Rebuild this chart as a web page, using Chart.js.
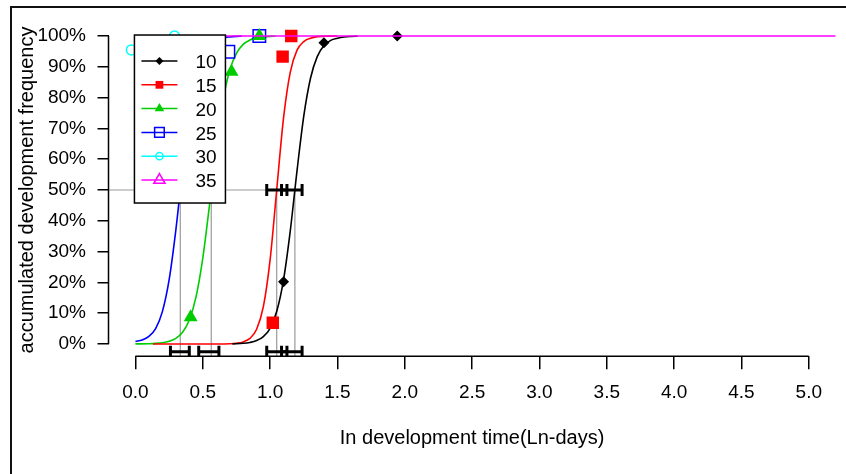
<!DOCTYPE html>
<html>
<head>
<meta charset="utf-8">
<script src="https://cdn.jsdelivr.net/npm/chart.js@4/dist/chart.umd.min.js"></script>
<style>
html,body{margin:0;padding:0;background:#fff;}
#wrap{position:relative;width:846px;height:474px;}
canvas{display:block;}
</style>
</head>
<body>
<div id="wrap"><canvas id="c" width="846" height="474"></canvas></div>
<script>
// ---- data ----
const seriesNames = ['10', '15', '20', '25', '30', '35'];
const seriesColors = ['#000000', '#ff0000', '#00cd00', '#0000ff', '#00ffff', '#ff00ff'];

// observed accumulated frequencies (points)
const pts10x = [1.10, 1.40, 1.944];
const pts10y = [0.202, 0.978, 1.00];
const pts15x = [1.02, 1.093, 1.157];
const pts15y = [0.069, 0.933, 1.00];
const pts20x = [0.41, 0.714, 0.92];
const pts20y = [0.087, 0.884, 1.00];
const pts25x = [0.69, 0.92];
const pts25y = [0.949, 1.00];
const pts30x = [-0.03, 0.29];
const pts30y = [0.955, 1.00];
const pts35x = [];
const pts35y = [];

// fitted curves
const curve10x = [0.72, 0.80, 0.85, 0.90, 0.95, 1.00, 1.05, 1.10, 1.15, 1.20, 1.25, 1.30, 1.35, 1.40, 1.45, 1.50, 1.55, 1.60, 1.65];
const curve10y = [0.0005, 0.0022, 0.005, 0.011, 0.024, 0.051, 0.107, 0.209, 0.368, 0.563, 0.740, 0.863, 0.933, 0.969, 0.986, 0.993, 0.997, 0.9986, 0.9994];
const curve15x = [0.13, 0.50, 0.60, 0.70, 0.75, 0.80, 0.85, 0.90, 0.95, 1.00, 1.05, 1.10, 1.15, 1.20, 1.25, 1.30, 1.35, 1.40, 1.45, 1.50];
const curve15y = [0.0, 0.0, 0.0001, 0.0009, 0.0025, 0.0068, 0.018, 0.048, 0.121, 0.273, 0.505, 0.735, 0.883, 0.954, 0.982, 0.993, 0.998, 0.999, 0.9997, 0.9999];
const curve20x = [0.00, 0.10, 0.15, 0.20, 0.25, 0.30, 0.35, 0.40, 0.45, 0.50, 0.55, 0.60, 0.65, 0.70, 0.75, 0.80, 0.85, 0.90, 0.95, 1.00, 1.04];
const curve20y = [0.0002, 0.0009, 0.0019, 0.0041, 0.0087, 0.018, 0.038, 0.078, 0.153, 0.278, 0.451, 0.636, 0.789, 0.889, 0.944, 0.973, 0.987, 0.994, 0.997, 0.9987, 0.9993];
const curve25x = [0.00, 0.05, 0.10, 0.15, 0.20, 0.25, 0.30, 0.35, 0.40, 0.45, 0.50, 0.55, 0.60, 0.65, 0.70, 0.75, 0.79];
const curve25y = [0.008, 0.013, 0.025, 0.050, 0.105, 0.208, 0.370, 0.568, 0.746, 0.868, 0.937, 0.971, 0.987, 0.994, 0.997, 0.9988, 0.9994];
const curve30x = [0.00, 0.10, 0.20, 0.30, 0.40, 0.50, 0.60];
const curve30y = [0.985, 0.994, 0.998, 0.999, 1.0, 1.0, 1.0];
const curve35x = [0.00, 5.20];
const curve35y = [1.0, 1.0];

// median development time (50%) and its confidence limits, series 10, 15, 20, 25
const medians = [1.184, 1.049, 0.563, 0.333];
const ciLow = [1.085, 0.975, 0.47, 0.26];
const ciHigh = [1.2375, 1.125, 0.62, 0.40];
const ciLevels = [0.5, -0.025];

// axes
const xTickValues = [0, 0.5, 1, 1.5, 2, 2.5, 3, 3.5, 4, 4.5, 5];
const xTickLabels = ['0.0', '0.5', '1.0', '1.5', '2.0', '2.5', '3.0', '3.5', '4.0', '4.5', '5.0'];
const yTickValues = [0, 0.1, 0.2, 0.3, 0.4, 0.5, 0.6, 0.7, 0.8, 0.9, 1.0];
const yTickLabels = ['0%', '10%', '20%', '30%', '40%', '50%', '60%', '70%', '80%', '90%', '100%'];
const xTitle = 'In development time(Ln-days)';
const yTitle = 'accumulated development frequency';

// ---- build ----
const FONT = "'Liberation Sans', Arial, sans-serif";
const TICK_SIZE = 19;
const TITLE_SIZE = 20;
const zip = (xs, ys) => xs.map((v, i) => ({x: v, y: ys[i]}));

const curves = [
  [curve10x, curve10y], [curve15x, curve15y], [curve20x, curve20y],
  [curve25x, curve25y], [curve30x, curve30y], [curve35x, curve35y]
];
const points = [
  [pts10x, pts10y], [pts15x, pts15y], [pts20x, pts20y],
  [pts25x, pts25y], [pts30x, pts30y], [pts35x, pts35y]
];
const markerStyle = [
  {style: 'rectRot', r: 5.5, filled: true, lr: 4},
  {style: 'rect', r: 8.8, filled: true, lr: 5.5},
  {style: 'triangle', r: 8, filled: true, lr: 5.5},
  {style: 'rect', r: 8.8, filled: false, lr: 6.8},
  {style: 'circle', r: 5, filled: false, lr: 3.6},
  {style: 'triangle', r: 8, filled: false, lr: 6.5}
];

const datasets = [];
// curve datasets: magenta on top, then black, red, green, blue, cyan
const curveOrder = [2, 3, 4, 5, 6, 0];
curves.forEach((c, i) => {
  datasets.push({
    label: seriesNames[i] + ' fit',
    data: zip(c[0], c[1]),
    showLine: true,
    borderColor: seriesColors[i],
    backgroundColor: seriesColors[i],
    borderWidth: 1.6,
    pointRadius: 0,
    pointHitRadius: 0,
    cubicInterpolationMode: 'monotone',
    order: curveOrder[i]
  });
});
points.forEach((p, i) => {
  const m = markerStyle[i];
  datasets.push({
    label: seriesNames[i],
    data: zip(p[0], p[1]),
    showLine: false,
    pointStyle: m.style,
    pointRadius: m.r,
    pointBorderWidth: m.filled ? 0 : 1.5,
    pointBackgroundColor: m.filled ? seriesColors[i] : 'rgba(0,0,0,0)',
    pointBorderColor: seriesColors[i],
    order: 1
  });
});

const extras = {
  id: 'extras',
  beforeDatasetsDraw(chart) {
    const {ctx, chartArea: a, scales: {x, y}} = chart;
    ctx.save();
    ctx.beginPath();
    ctx.rect(a.left, a.top, a.right - a.left, a.bottom - a.top);
    ctx.clip();
    ctx.strokeStyle = '#9a9a9a';
    ctx.lineWidth = 1.2;
    const y50 = y.getPixelForValue(0.5);
    ctx.beginPath();
    ctx.moveTo(a.left, y50);
    ctx.lineTo(x.getPixelForValue(Math.max(...medians)), y50);
    ctx.stroke();
    medians.forEach(m => {
      const px = x.getPixelForValue(m);
      ctx.beginPath();
      ctx.moveTo(px, y50);
      ctx.lineTo(px, a.bottom);
      ctx.stroke();
    });
    ctx.restore();
  },
  afterDatasetsDraw(chart) {
    const {ctx, chartArea: a, scales: {x, y}} = chart;
    ctx.save();
    ctx.beginPath();
    ctx.rect(a.left, a.top, a.right - a.left, a.bottom - a.top);
    ctx.clip();
    ctx.strokeStyle = '#000';
    ctx.lineWidth = 3;
    ciLevels.forEach(level => {
      const py = y.getPixelForValue(level);
      medians.forEach((m, i) => {
        const x0 = x.getPixelForValue(ciLow[i]);
        const x1 = x.getPixelForValue(ciHigh[i]);
        ctx.beginPath();
        ctx.moveTo(x0, py); ctx.lineTo(x1, py);
        ctx.moveTo(x0, py - 6); ctx.lineTo(x0, py + 6);
        ctx.moveTo(x1, py - 6); ctx.lineTo(x1, py + 6);
        ctx.stroke();
      });
    });
    ctx.restore();
  },
  afterDraw(chart) {
    const {ctx, chartArea: a, scales: {x, y}} = chart;
    ctx.save();
    // axis lines (R style, only over the tick range)
    ctx.strokeStyle = '#000';
    ctx.lineWidth = 1.5;
    ctx.beginPath();
    ctx.moveTo(a.left, y.getPixelForValue(yTickValues[0]));
    ctx.lineTo(a.left, y.getPixelForValue(yTickValues[yTickValues.length - 1]));
    ctx.moveTo(x.getPixelForValue(xTickValues[0]), a.bottom);
    ctx.lineTo(x.getPixelForValue(xTickValues[xTickValues.length - 1]), a.bottom);
    ctx.stroke();

    // legend box
    const lx = x.getPixelForValue(0) - 1;
    const ly = y.getPixelForValue(1) - 1;
    const lw = 91, lh = 168;
    ctx.fillStyle = '#fff';
    ctx.fillRect(lx, ly, lw, lh);
    ctx.strokeStyle = '#000';
    ctx.lineWidth = 1.5;
    ctx.strokeRect(lx, ly, lw, lh);
    seriesNames.forEach((name, i) => {
      const cy = ly + 26 + i * 23.8;
      const col = seriesColors[i];
      const m = markerStyle[i];
      ctx.strokeStyle = col;
      ctx.lineWidth = 1.5;
      ctx.beginPath();
      ctx.moveTo(lx + 7, cy);
      ctx.lineTo(lx + 43, cy);
      ctx.stroke();
      ctx.fillStyle = m.filled ? col : 'rgba(0,0,0,0)';
      ctx.strokeStyle = col;
      ctx.lineWidth = 1.5;
      Chart.helpers.drawPoint(ctx, {pointStyle: m.style, radius: m.lr, rotation: 0, borderWidth: m.filled ? 0 : 1.5}, lx + 25, cy);
      ctx.fillStyle = '#000';
      ctx.font = TICK_SIZE + 'px ' + FONT;
      ctx.textBaseline = 'middle';
      ctx.textAlign = 'left';
      ctx.fillText(name, lx + 61, cy + 2);
    });

    // outer frame (left and top edges)
    ctx.fillStyle = '#111';
    ctx.fillRect(10, 6, 836, 2);
    ctx.fillRect(10, 6, 2, 468);
    ctx.restore();
  }
};

new Chart(document.getElementById('c'), {
  type: 'scatter',
  data: {datasets},
  options: {
    responsive: false,
    animation: false,
    events: [],
    devicePixelRatio: 1,
    layout: {padding: {top: 23.7, right: 3, left: 0, bottom: 0}},
    plugins: {legend: {display: false}, tooltip: {enabled: false}},
    scales: {
      x: {
        type: 'linear', min: -0.2, max: 5.2,
        afterBuildTicks: s => { s.ticks = xTickValues.map(v => ({value: v})); },
        afterFit: s => { s.height = 117.7; },
        ticks: {callback: (v, i) => xTickLabels[i], font: {family: FONT, size: TICK_SIZE}, color: '#000', padding: 12, maxRotation: 0, autoSkip: false},
        grid: {drawOnChartArea: false, drawTicks: true, tickLength: 13, color: '#000', lineWidth: 1.5},
        border: {display: false},
        title: {display: true, text: xTitle, font: {family: FONT, size: TITLE_SIZE}, color: '#000', padding: {top: 0, bottom: 24}}
      },
      y: {
        type: 'linear', min: -0.04, max: 1.04,
        afterBuildTicks: s => { s.ticks = yTickValues.map(v => ({value: v})); },
        afterFit: s => { s.width = 108.5; },
        ticks: {callback: (v, i) => yTickLabels[i], font: {family: FONT, size: TICK_SIZE}, color: '#000', padding: 11.5, autoSkip: false},
        grid: {drawOnChartArea: false, drawTicks: true, tickLength: 11, color: '#000', lineWidth: 1.5},
        border: {display: false},
        title: {display: true, text: yTitle, font: {family: FONT, size: TITLE_SIZE}, color: '#000', padding: {top: 15, bottom: 0}}
      }
    }
  },
  plugins: [extras]
});
</script>
</body>
</html>
